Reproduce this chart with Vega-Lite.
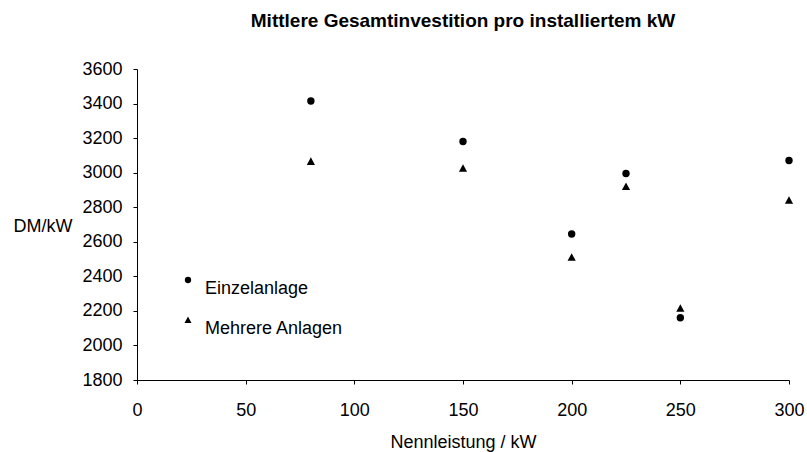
{
  "$schema": "https://vega.github.io/schema/vega-lite/v6.json",
  "autosize": {"type": "none"},
  "width": 652,
  "height": 311,
  "padding": {"left": 137, "top": 69, "right": 18, "bottom": 72},
  "background": "white",
  "config": {
    "view": {"stroke": null},
    "font": "Liberation Sans",
    "axis": {"grid": false, "domainColor": "black", "tickColor": "black", "labelColor": "black", "titleColor": "black", "labelFont": "Liberation Sans", "titleFont": "Liberation Sans", "labelFontSize": 18, "titleFontSize": 18, "titleFontWeight": "normal", "labelFlush": false, "labelOverlap": false, "domainWidth": 1, "tickWidth": 1}
  },
  "title": {"text": "Mittlere Gesamtinvestition pro installiertem kW", "font": "Liberation Sans", "fontSize": 19, "fontWeight": "bold", "color": "black", "anchor": "middle", "offset": 29},
  "data": {"values": [
    {"kW": 80, "Wert": 3415, "Serie": "Einzelanlage"},
    {"kW": 150, "Wert": 3180, "Serie": "Einzelanlage"},
    {"kW": 200, "Wert": 2645, "Serie": "Einzelanlage"},
    {"kW": 225, "Wert": 2995, "Serie": "Einzelanlage"},
    {"kW": 250, "Wert": 2160, "Serie": "Einzelanlage"},
    {"kW": 300, "Wert": 3070, "Serie": "Einzelanlage"},
    {"kW": 80, "Wert": 3065, "Serie": "Mehrere Anlagen"},
    {"kW": 150, "Wert": 3025, "Serie": "Mehrere Anlagen"},
    {"kW": 200, "Wert": 2510, "Serie": "Mehrere Anlagen"},
    {"kW": 225, "Wert": 2920, "Serie": "Mehrere Anlagen"},
    {"kW": 250, "Wert": 2215, "Serie": "Mehrere Anlagen"},
    {"kW": 300, "Wert": 2840, "Serie": "Mehrere Anlagen"}
  ]},
  "mark": {"type": "point", "filled": true, "color": "black", "opacity": 1, "size": 55},
  "encoding": {
    "x": {"field": "kW", "type": "quantitative", "scale": {"domain": [0, 300], "nice": false, "zero": false},
      "axis": {"values": [0, 50, 100, 150, 200, 250, 300], "format": "d", "tickSize": 4, "labelPadding": 17, "title": "Nennleistung / kW", "titlePadding": 14}},
    "y": {"field": "Wert", "type": "quantitative", "scale": {"domain": [1800, 3600], "nice": false, "zero": false},
      "axis": {"values": [1800, 2000, 2200, 2400, 2600, 2800, 3000, 3200, 3400, 3600], "format": "d", "tickSize": 4, "labelPadding": 11, "title": "DM/kW", "titleAngle": 0, "titleAlign": "left", "titleBaseline": "middle", "titleX": -124, "titleY": 157}},
    "shape": {"field": "Serie", "type": "nominal",
      "scale": {"domain": ["Einzelanlage", "Mehrere Anlagen"], "range": ["circle", "M0,-1.1L1.1,0.95L-1.1,0.95Z"]},
      "legend": {"title": null, "orient": "none", "legendX": 42, "legendY": 202, "padding": 0, "labelFont": "Liberation Sans", "labelFontSize": 18, "labelColor": "black", "labelOffset": 8, "labelBaseline": "top", "rowPadding": 13, "symbolSize": 40, "symbolFillColor": "black", "symbolStrokeColor": "black", "symbolStrokeWidth": 0, "symbolOpacity": 1}}
  }
}
